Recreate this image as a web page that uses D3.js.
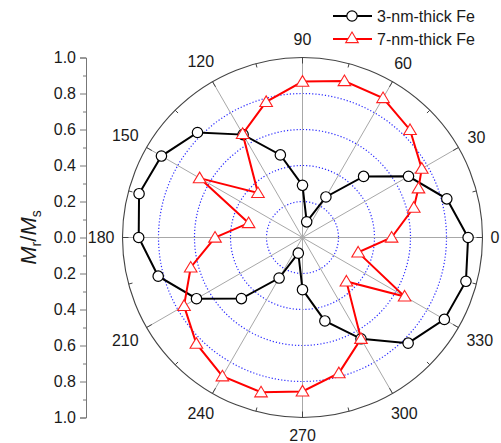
<!DOCTYPE html>
<html>
<head>
<meta charset="utf-8">
<script src="https://cdn.jsdelivr.net/npm/d3@7"></script>
<style>
  html, body { margin: 0; padding: 0; background: #fff; }
  svg { display: block; font-family: Arial, "Liberation Sans", sans-serif; }
</style>
</head>
<body>
<div id="chart"></div>
<script>
// angle (deg) -> Mr/Ms
const angles3nm = [0, 15, 30, 45, 60, 75, 90, 105, 120, 135, 150, 165,
                   180, 195, 210, 225, 240, 255, 270, 285, 300, 315, 330, 345];
const ratio3nm  = [0.92, 0.83, 0.68, 0.48, 0.26, 0.09, 0.29, 0.475, 0.66, 0.825, 0.905, 0.94,
                   0.91, 0.83, 0.68, 0.48, 0.26, 0.09, 0.29, 0.48, 0.65, 0.83, 0.91, 0.94];

const angles7nm = [0, 15, 23, 30, 45, 60, 75, 90, 105, 120, 135, 150, 165,
                   180, 195, 210, 225, 240, 255, 270, 285, 300, 315, 330, 345];
const ratio7nm  = [0.495, 0.64, 0.70, 0.765, 0.845, 0.895, 0.90, 0.866, 0.78, 0.665, 0.35, 0.66, 0.31,
                   0.486, 0.643, 0.76, 0.834, 0.89, 0.89, 0.855, 0.78, 0.65, 0.345, 0.655, 0.32];

const seriesNames = ['3-nm-thick Fe', '7-nm-thick Fe'];
const angleTicks = [0, 30, 60, 90, 120, 150, 180, 210, 240, 270, 300, 330];
const radialTicks = [0, 0.2, 0.4, 0.6, 0.8, 1.0];
const sideTicks = [-1, -0.8, -0.6, -0.4, -0.2, 0, 0.2, 0.4, 0.6, 0.8, 1];

const W = 501, H = 443;
const cx = 302.5, cy = 237.5, R = 180;
const rad = d => d * Math.PI / 180;

const svg = d3.select('#chart').append('svg')
  .attr('width', W).attr('height', H)
  .attr('viewBox', `0 0 ${W} ${H}`);

const r = d3.scaleLinear().domain([0, 1]).range([0, R]);

const polar = svg.append('g').attr('transform', `translate(${cx},${cy})`);

// dotted blue rings
polar.selectAll('.ring')
  .data(radialTicks.filter(v => v > 0 && v < 1))
  .enter().append('circle')
  .attr('r', d => r(d))
  .attr('fill', 'none')
  .attr('stroke', '#2a2aff')
  .attr('stroke-width', 1.2)
  .attr('stroke-dasharray', '1.2,2');

// spokes
polar.selectAll('.spoke')
  .data(angleTicks)
  .enter().append('line')
  .attr('x1', 0).attr('y1', 0)
  .attr('x2', d => r(1) * Math.cos(rad(d)))
  .attr('y2', d => -r(1) * Math.sin(rad(d)))
  .attr('stroke', '#a8a8a8')
  .attr('stroke-width', 1);

// outer circle
polar.append('circle')
  .attr('r', r(1))
  .attr('fill', 'none')
  .attr('stroke', '#444')
  .attr('stroke-width', 1.1);

// major/minor ticks on outer circle, pointing inward
const ringTicks = angleTicks.flatMap(a => [{ a, len: 6 }, { a: a + 15, len: 4 }]);
polar.selectAll('.rtick')
  .data(ringTicks)
  .enter().append('line')
  .attr('x1', d => r(1) * Math.cos(rad(d.a)))
  .attr('y1', d => -r(1) * Math.sin(rad(d.a)))
  .attr('x2', d => (r(1) - d.len) * Math.cos(rad(d.a)))
  .attr('y2', d => -(r(1) - d.len) * Math.sin(rad(d.a)))
  .attr('stroke', '#444')
  .attr('stroke-width', 1);

// angle labels, pushed just outside the circle by their own box size
const alabels = polar.selectAll('.alabel')
  .data(angleTicks)
  .enter().append('text')
  .attr('font-size', 16)
  .attr('fill', '#1a1a1a')
  .attr('text-anchor', 'middle')
  .text(d => d);
alabels.each(function (d) {
  const bb = this.getBBox();
  const c = Math.cos(rad(d)), s = Math.sin(rad(d));
  const dist = r(1) + 8 + (bb.width / 2) * Math.abs(c) + (bb.height * 0.36 + 4) * Math.abs(s);
  d3.select(this)
    .attr('x', dist * c)
    .attr('y', -dist * s + bb.height * 0.34);
});

// data series
const pts3 = angles3nm.map((a, i) => ({ a, v: ratio3nm[i] }));
const pts7 = angles7nm.map((a, i) => ({ a, v: ratio7nm[i] }));

const radial = d3.lineRadial()
  .angle(d => rad(90 - d.a))
  .radius(d => r(d.v))
  .curve(d3.curveLinearClosed);

polar.append('path').datum(pts3)
  .attr('d', radial)
  .attr('fill', 'none')
  .attr('stroke', '#000')
  .attr('stroke-width', 2);

polar.selectAll('.pt3').data(pts3).enter().append('circle')
  .attr('cx', d => r(d.v) * Math.cos(rad(d.a)))
  .attr('cy', d => -r(d.v) * Math.sin(rad(d.a)))
  .attr('r', 5.2)
  .attr('fill', '#fff')
  .attr('stroke', '#000')
  .attr('stroke-width', 1.2);

polar.append('path').datum(pts7)
  .attr('d', radial)
  .attr('fill', 'none')
  .attr('stroke', '#ff0000')
  .attr('stroke-width', 2);

const tri = 'M0,-6L6.3,4.6L-6.3,4.6Z';
polar.selectAll('.pt7').data(pts7).enter().append('path')
  .attr('d', tri)
  .attr('transform', d => `translate(${r(d.v) * Math.cos(rad(d.a))},${-r(d.v) * Math.sin(rad(d.a))})`)
  .attr('fill', '#fff')
  .attr('stroke', '#ff2020')
  .attr('stroke-width', 1.1);

// left scale: 1.0 ... 0.0 ... 1.0
const y = d3.scaleLinear().domain([-1, 1]).range([cy + R, cy - R]);
const ax = svg.append('g').attr('transform', 'translate(86,0)');
ax.call(d3.axisLeft(y).tickValues(sideTicks).tickSize(6).tickPadding(4)
    .tickFormat(d => Math.abs(d).toFixed(1)))
  .call(g => g.selectAll('path, line').attr('stroke', '#777'))
  .call(g => g.selectAll('text').attr('fill', '#1a1a1a').attr('font-size', 16)
    .attr('font-family', 'Arial, "Liberation Sans", sans-serif'));
ax.append('g')
  .call(d3.axisLeft(y).tickValues(d3.range(-0.9, 1, 0.2)).tickSize(3).tickFormat(''))
  .call(g => g.select('.domain').remove())
  .call(g => g.selectAll('line').attr('stroke', '#777'));

// y title
const yt = svg.append('text')
  .attr('transform', `translate(36,${cy}) rotate(-90)`)
  .attr('text-anchor', 'middle')
  .attr('font-size', 22)
  .attr('fill', '#1a1a1a');
yt.append('tspan').attr('font-style', 'italic').text('M');
yt.append('tspan').attr('font-size', 14).attr('dy', 5).text('r');
yt.append('tspan').attr('dy', -5).text('/');
yt.append('tspan').attr('font-style', 'italic').text('M');
yt.append('tspan').attr('font-size', 14).attr('dy', 5).text('s');

// legend
const legend = svg.append('g').attr('transform', 'translate(333,16)');
const l1 = legend.append('g');
l1.append('line').attr('x1', 0).attr('x2', 39).attr('stroke', '#000').attr('stroke-width', 2);
l1.append('circle').attr('cx', 19).attr('r', 5.2).attr('fill', '#fff').attr('stroke', '#000').attr('stroke-width', 1.2);
l1.append('text').attr('x', 44).attr('y', 6).attr('font-size', 16).attr('fill', '#1a1a1a').text(seriesNames[0]);
const l2 = legend.append('g').attr('transform', 'translate(0,23)');
l2.append('line').attr('x1', 0).attr('x2', 39).attr('stroke', '#ff0000').attr('stroke-width', 2);
l2.append('path').attr('d', tri).attr('transform', 'translate(19,-1)')
  .attr('fill', '#fff').attr('stroke', '#ff2020').attr('stroke-width', 1.1);
l2.append('text').attr('x', 44).attr('y', 6).attr('font-size', 16).attr('fill', '#1a1a1a').text(seriesNames[1]);
</script>
</body>
</html>
